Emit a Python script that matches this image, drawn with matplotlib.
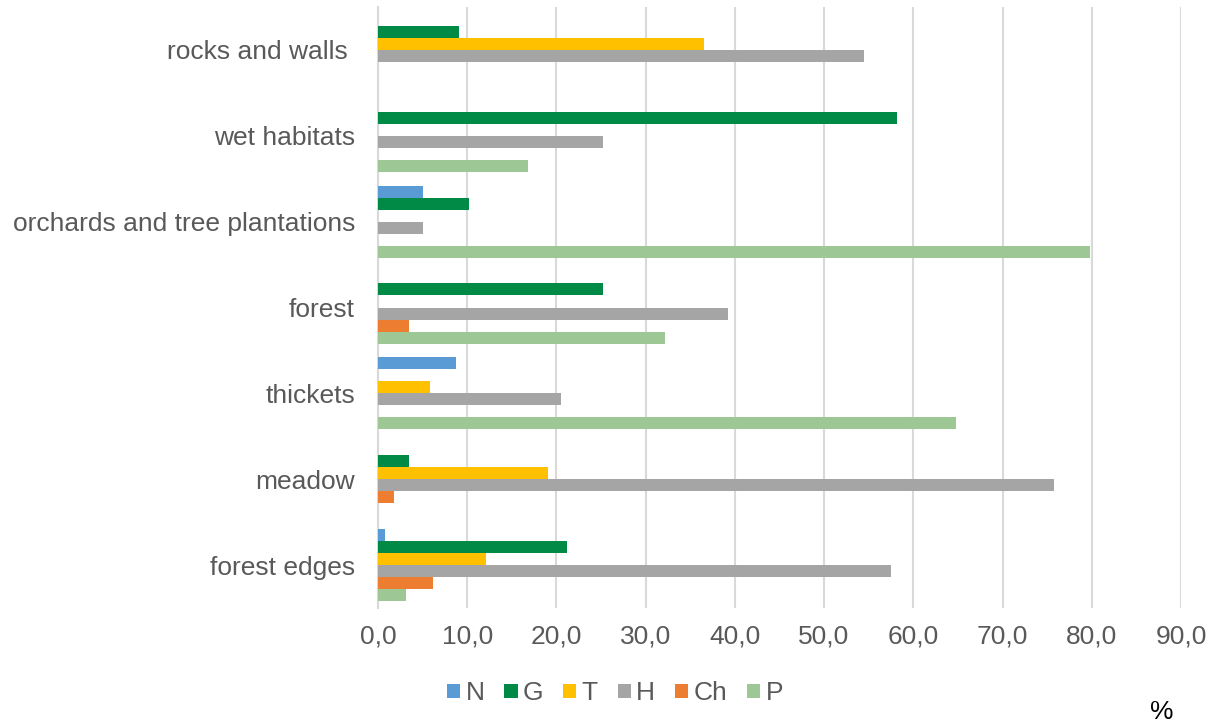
import matplotlib
matplotlib.use("Agg")
import matplotlib.pyplot as plt
import numpy as np

plt.rcParams['font.family'] = ['Liberation Sans', 'DejaVu Sans']

habitats = ["rocks and walls ", "wet habitats", "orchards and tree plantations",
            "forest", "thickets", "meadow", "forest edges"]
series = ["N", "G", "T", "H", "Ch", "P"]
colors = ["#5B9BD5", "#008A45", "#FFC000", "#A5A5A5", "#ED7D31", "#9DC795"]

N_vals = [0.0, 0.0, 5.1, 0.0, 8.8, 0.0, 0.8]
G_vals = [9.1, 58.2, 10.2, 25.2, 0.0, 3.5, 21.2]
T_vals = [36.5, 0.0, 0.0, 0.0, 5.8, 19.1, 12.1]
H_vals = [54.5, 25.2, 5.1, 39.2, 20.5, 75.8, 57.5]
Ch_vals = [0.0, 0.0, 0.0, 3.5, 0.0, 1.8, 6.2]
P_vals = [0.0, 16.8, 79.8, 32.2, 64.8, 0.0, 3.1]
values = [N_vals, G_vals, T_vals, H_vals, Ch_vals, P_vals]

x_ticks = np.arange(0, 91, 10)
x_labels = [f"{v:.1f}".replace(".", ",") for v in x_ticks]

fig = plt.figure(figsize=(12.18, 7.24), dpi=100)
ax = fig.add_axes([0.3103, 0.1602, 0.6593, 0.8301])

pos = np.arange(len(habitats))
bh = 0.14
for i, (name, vals, col) in enumerate(zip(series, values, colors)):
    ax.barh(pos + (i - 2.5) * bh, vals, height=bh, color=col, label=name,
            edgecolor="none", zorder=3)

ax.set_ylim(-0.5, len(habitats) - 0.5)
ax.invert_yaxis()
ax.set_xlim(0, 90)
ax.set_yticks(pos)
ax.set_yticklabels(habitats, fontsize=19, color="#595959")
ax.set_xticks(x_ticks)
ax.set_xticklabels(x_labels, fontsize=19, color="#595959")
ax.tick_params(axis="both", length=0)
ax.tick_params(axis="y", pad=16.5)
ax.tick_params(axis="x", pad=12)
ax.grid(axis="x", color="#D9D9D9", linewidth=1.5, zorder=0)
for s in ["top", "right", "bottom"]:
    ax.spines[s].set_visible(False)
ax.spines["left"].set_color("#D9D9D9")
ax.spines["left"].set_linewidth(1.5)

fig.legend(loc="center", bbox_to_anchor=(615 / 1218, 1 - 693 / 724), ncol=6,
           frameon=False, fontsize=19, labelcolor="#595959",
           handlelength=0.5, handleheight=0.45, handletextpad=0.2,
           columnspacing=0.75)

fig.text(1162 / 1218, 1 - 712 / 724, "%", fontsize=19, color="black",
         ha="center", va="center")

fig.savefig("out.png", dpi=100)
